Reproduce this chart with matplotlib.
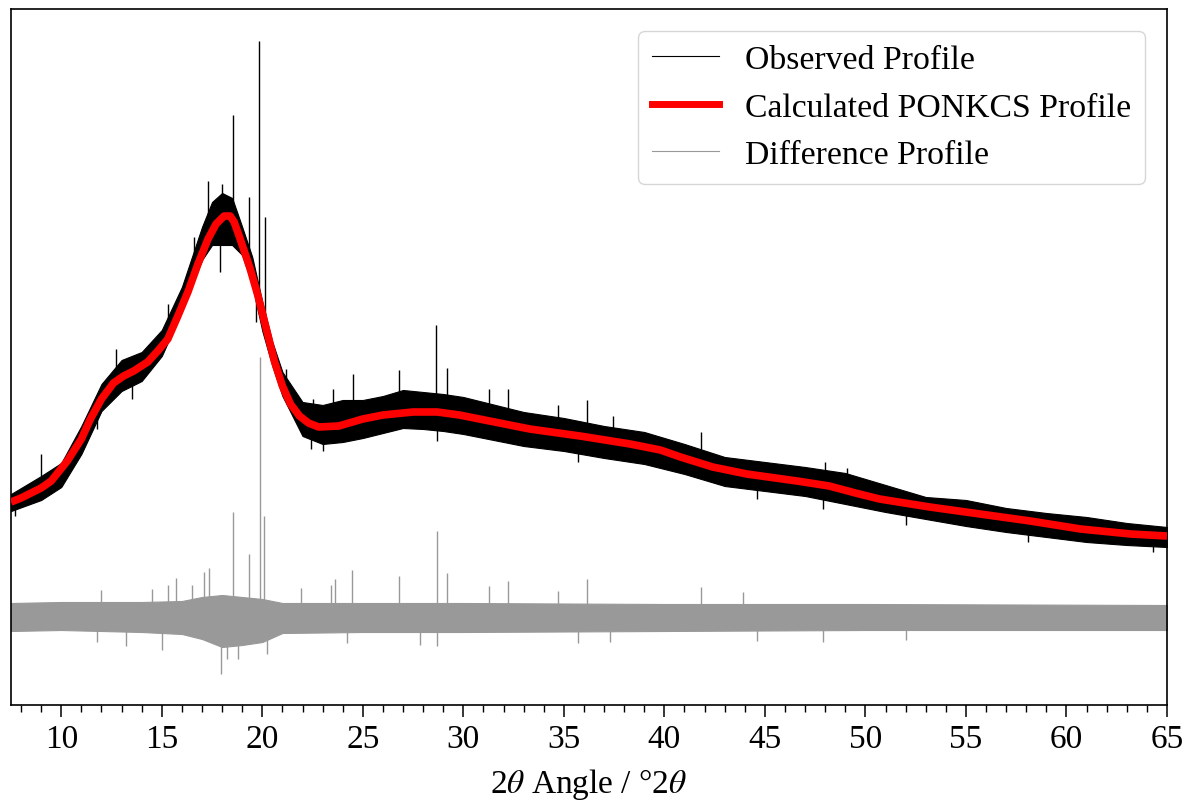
import matplotlib
matplotlib.use("Agg")
import matplotlib.pyplot as plt
from matplotlib.lines import Line2D
from matplotlib.ticker import MultipleLocator
import numpy as np

plt.rcParams['font.family'] = ['Liberation Serif', 'DejaVu Serif']
plt.rcParams['mathtext.fontset'] = 'stix'

# ---------------- data (intensity, arbitrary units) ----------------
# Calculated PONKCS profile
calc_x = [7.5, 8.0, 8.6, 9.0, 9.5, 10.3, 11.0, 11.45, 12.0, 12.6, 13.1, 13.6, 14.3, 14.8,
          15.3, 15.8, 16.3, 16.8, 17.3, 17.7, 18.1, 18.4, 18.6, 18.9, 19.4, 19.8, 20.2,
          20.6, 21.0, 21.4, 21.85, 22.3, 22.8, 23.8, 25.0, 26.0, 27.5, 28.7, 29.8, 30.8,
          33.3, 35.8, 38.3, 39.8, 40.8, 42.4, 44.1, 46.6, 48.2, 49.5, 50.7, 53.2, 55.7,
          58.2, 60.7, 63.2, 65.0]
calc_y = [203, 207, 213, 217, 224, 244, 266, 286, 306, 322, 329, 334, 343, 354,
          366, 389, 413, 441, 466, 481, 489, 489, 483, 466, 436, 408, 376,
          344, 319, 301, 289, 282, 278, 279, 286, 290, 293, 293, 290, 286,
          276, 269, 261, 255, 248, 238, 231, 224, 219, 212, 206, 198, 191,
          184, 176, 171, 169]

# Observed profile: envelope of the dense noisy trace (upper / lower edge)
env_x = [7.5, 9, 10, 11, 12, 13, 14, 15, 16, 17, 17.5, 18, 18.5, 19, 19.5, 20, 20.5,
         21, 22, 23, 24, 25, 26, 27, 28, 29, 30, 31, 33, 35, 37, 39, 41, 43, 45, 47,
         49, 51, 53, 55, 57, 59, 61, 63, 65]
obs_upper = [211, 229, 242, 279, 321, 345, 353, 375, 418, 478, 503, 512, 507, 478, 448,
             403, 363, 333, 303, 300, 305, 305, 309, 315, 313, 311, 308, 303, 293, 287,
             279, 273, 261, 248, 243, 238, 232, 220, 208, 205, 197, 192, 188, 182, 178]
obs_lower = [194, 205, 218, 251, 294, 314, 324, 349, 394, 445, 460, 460, 460, 450, 420,
             374, 339, 309, 269, 261, 263, 267, 272, 277, 276, 274, 271, 267, 259, 254,
             247, 241, 231, 219, 214, 209, 201, 193, 186, 179, 173, 168, 163, 160, 158]

# Observed sharp excursions / reflections (position, extreme value)
spike_x = [7.7, 9.0, 11.8, 12.7, 13.5, 15.3, 16.6, 17.3, 17.9, 18.0, 18.52, 19.35,
           19.7, 19.85, 20.15, 21.2, 22.4, 22.5, 23.0, 23.5, 24.5, 26.8, 28.65, 28.7,
           29.2, 31.3, 32.2, 34.7, 35.7, 36.15, 37.45, 40.3, 41.8, 44.6, 47.9, 48.0,
           49.1, 52.0, 58.1, 64.3]
spike_y = [189, 251, 276, 356, 306, 401, 468, 524, 433, 521, 590, 508,
           383, 664, 488, 336, 256, 306, 254, 316, 331, 335, 380, 264,
           337, 316, 316, 300, 243, 305, 289, 238, 273, 206, 196, 243,
           237, 180, 163, 153]

# Difference profile (observed - calculated): dense band and sharp residuals
diff_x = [7.5, 10, 14, 16, 17, 18, 19, 20, 21, 25, 30, 40, 50, 65]
diff_upper = [14, 15, 15, 16, 20, 22, 20, 18, 14, 14, 14, 13, 13, 12]
diff_lower = [-14, -13, -15, -17, -22, -30, -28, -25, -16, -15, -15, -14, -13, -13]
dspike_x = [12.0, 14.5, 15.3, 15.7, 16.5, 17.1, 17.36, 18.54, 19.35, 19.9, 20.1, 21.9,
            23.4, 23.6, 24.47, 26.8, 28.68, 29.18, 31.3, 32.2, 34.7, 36.15, 41.8, 43.9,
            11.8, 13.2, 15.0, 17.94, 18.24, 18.8, 20.23, 24.2, 27.85, 28.7, 35.7, 37.3,
            44.6, 47.9, 52.0]
dspike_y = [27, 28, 32, 39, 32, 45, 49, 105, 63, 260, 101, 29,
            32, 38, 47, 41, 86, 44, 31, 36, 26, 38, 30, 25,
            -25, -29, -33, -57, -42, -42, -37, -26, -28, -29, -26, -25,
            -24, -25, -23]

diff_offset = 88

# ---------------- figure ----------------
fig = plt.figure(figsize=(11.86, 8.03), dpi=100)
ax = fig.add_axes([11 / 1186, 1 - 706 / 803, 1156 / 1186, 696 / 803])

cx = np.array(calc_x)
cy = np.array(calc_y)
ax.fill_between(env_x, obs_lower, obs_upper, color='black', linewidth=0.8, zorder=2)
sx = np.array(spike_x)
ax.vlines(sx, np.interp(sx, cx, cy), spike_y, color='black', linewidth=1.0, zorder=2)

ax.plot(cx, cy, color='red', linewidth=5.5, solid_capstyle='butt', zorder=3)

ax.fill_between(diff_x, np.array(diff_lower) + diff_offset,
                np.array(diff_upper) + diff_offset,
                color='#999999', linewidth=0.8, zorder=2)
ax.vlines(dspike_x, diff_offset, np.array(dspike_y) + diff_offset, color='#999999',
          linewidth=1.0, zorder=2)

ax.set_xlim(7.5, 65)
ax.set_ylim(0, 696)
ax.set_yticks([])
ax.xaxis.set_major_locator(MultipleLocator(5))
ax.xaxis.set_minor_locator(MultipleLocator(1))
ax.tick_params(axis='x', which='major', direction='out', length=8.5, width=1.1,
               labelsize=24, pad=5)
ax.tick_params(axis='x', which='minor', direction='out', length=5, width=1.0)
for s in ax.spines.values():
    s.set_linewidth(1.2)

ax.set_xlabel('2$\\theta$ Angle / °2$\\theta$', fontsize=24)
ax.xaxis.set_label_coords(0.5, -0.087)

handles = [Line2D([], [], color='black', linewidth=0.8),
           Line2D([], [], color='red', linewidth=5),
           Line2D([], [], color='#999999', linewidth=0.8)]
labels = ['Observed Profile', 'Calculated PONKCS Profile', 'Difference Profile']
ax.legend(handles, labels, loc='upper right', fontsize=24.3, handlelength=2.0,
          handletextpad=0.78, labelspacing=0.5, borderaxespad=0.65)

fig.savefig('out.png', dpi=100)
